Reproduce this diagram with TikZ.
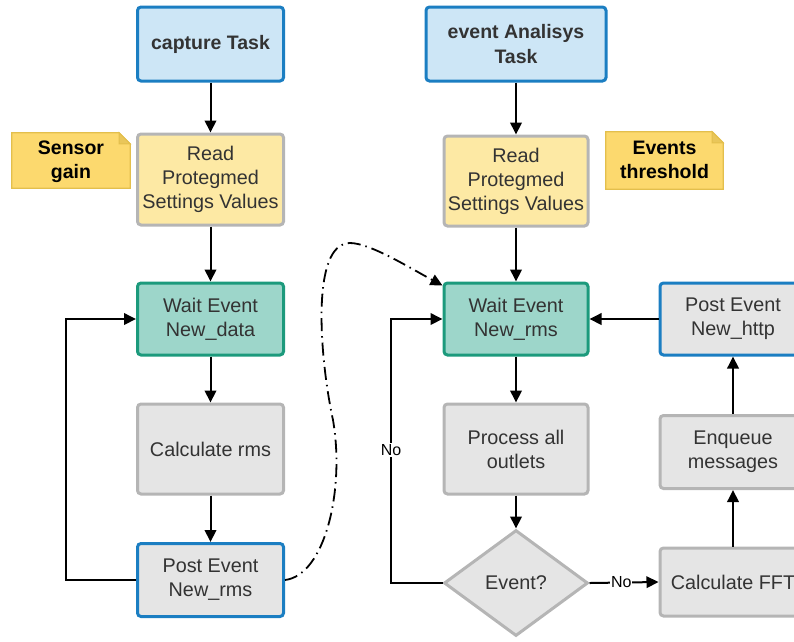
\documentclass[tikz,border=0pt]{standalone}
\usepackage{fontspec}
\setmainfont{Liberation Sans}
\usetikzlibrary{arrows.meta,shapes.geometric}

\definecolor{bluefill}{HTML}{CDE6F6}
\definecolor{blueline}{HTML}{1B7EC2}
\definecolor{tealfill}{HTML}{9DD6CA}
\definecolor{tealline}{HTML}{1C9A7C}
\definecolor{yelfill}{HTML}{FDE9A4}
\definecolor{grayfill}{HTML}{E5E5E5}
\definecolor{grayline}{HTML}{B5B5B5}
\definecolor{notefill}{HTML}{FCD96E}
\definecolor{noteline}{HTML}{E3BF4C}
\definecolor{notefold}{HTML}{E9C65A}
\definecolor{txt}{HTML}{333333}

\tikzset{
  box/.style={rectangle, rounded corners=3.5pt, line width=3pt, align=center,
    inner sep=2pt, text=txt, font=\fontsize{19.8}{24}\selectfont},
  taskbox/.style={box, draw=blueline, fill=bluefill,
    font=\fontsize{19.5}{25}\selectfont\bfseries},
  setbox/.style={box, draw=grayline, fill=yelfill},
  waitbox/.style={box, draw=tealline, fill=tealfill},
  workbox/.style={box, draw=grayline, fill=grayfill},
  postbox/.style={box, draw=blueline, fill=grayfill},
  decision/.style={diamond, draw=grayline, fill=grayfill, line width=3pt,
    inner sep=0pt, text=txt, font=\fontsize{19.8}{24}\selectfont},
  notebox/.style={rectangle, align=center, inner sep=0pt, text=black,
    font=\fontsize{19.5}{24.5}\selectfont\bfseries},
  flow/.style={line width=2pt, -{Triangle[length=12pt,width=11.5pt]}},
  plain/.style={line width=2pt},
  lbl/.style={fill=white, inner sep=1pt, text=black, font=\fontsize{16}{18}\selectfont},
  signal/.style={line width=1.8pt, dash pattern=on 13pt off 5pt on 1.5pt off 5pt,
    -{Triangle[length=12pt,width=11.5pt]}},
}

\begin{document}
\begin{tikzpicture}[x=1pt, y=-1pt]
  \useasboundingbox (0,0) rectangle (794,641);

  % left column: capture task
  \node[taskbox, minimum width=146pt, minimum height=74pt] (cap) at (210.5,44) {capture Task};
  \node[setbox, minimum width=146pt, minimum height=91pt] (readL) at (210.5,179.5) {Read\\Protegmed\\Settings Values};
  \node[waitbox, minimum width=146pt, minimum height=72pt] (waitL) at (210.5,319) {Wait Event\\New\_data};
  \node[workbox, minimum width=146pt, minimum height=90pt] (rms) at (210.5,449) {Calculate rms};
  \node[postbox, minimum width=146pt, minimum height=73pt] (postL) at (210.5,580) {Post Event\\New\_rms};

  % right column: event analysis task
  \node[taskbox, minimum width=180pt, minimum height=74pt] (evt) at (516,44) {event Analisys\\Task};
  \node[setbox, minimum width=144pt, minimum height=90pt] (readR) at (516,181) {Read\\Protegmed\\Settings Values};
  \node[waitbox, minimum width=144pt, minimum height=72pt] (waitR) at (516,319) {Wait Event\\New\_rms};
  \node[workbox, minimum width=144pt, minimum height=90pt] (proc) at (516,449) {Process all\\outlets};
  \node[decision, minimum width=144pt, minimum height=106pt] (dec) at (516,583) {Event?};

  % far right column
  \node[workbox, minimum width=146pt, minimum height=68pt] (fft) at (733,582) {Calculate FFT};
  \node[workbox, minimum width=146pt, minimum height=73pt] (enq) at (733,452) {Enqueue\\messages};
  \node[postbox, minimum width=146pt, minimum height=72pt] (http) at (733,319) {Post Event\\New\_http};

  % sticky notes
  \node[notebox, minimum width=118pt, minimum height=55pt] (gain) at (71,160.5) {};
  \node[notebox, minimum width=117pt, minimum height=57pt] (thr) at (664.5,160.5) {};
  \foreach \n in {gain,thr}{
    \filldraw[fill=notefill, draw=noteline, line width=1.2pt]
      (\n.south west) -- (\n.north west) -- ([xshift=-11pt]\n.north east)
      -- ([yshift=-11pt]\n.north east) -- (\n.south east) -- cycle;
    \filldraw[fill=notefold, draw=noteline, line width=1pt]
      ([xshift=-11pt]\n.north east) -- ([xshift=-11pt,yshift=-11pt]\n.north east)
      -- ([yshift=-11pt]\n.north east) -- cycle;
  }
  \node[notebox] at ([yshift=-1.5pt]gain.center) {Sensor\\gain};
  \node[notebox] at ([yshift=0.5pt]thr.center) {Events\\threshold};

  % left column flow
  \draw[flow] (cap) -- (readL);
  \draw[flow] (readL) -- (waitL);
  \draw[flow] (waitL) -- (rms);
  \draw[flow] (rms) -- (postL);
  \coordinate (loopL) at (66,0);
  \draw[flow] (postL.west) -| (loopL |- waitL.west) -- (waitL.west);

  % right column flow
  \draw[flow] (evt) -- (readR);
  \draw[flow] (readR) -- (waitR);
  \draw[flow] (waitR) -- (proc);
  \draw[flow] (proc) -- (dec);
  \coordinate (loopR) at (391,0);
  \draw[plain] (dec.west) -| (loopR |- proc.center);
  \draw[flow] (loopR |- proc.center) |- (waitR.west);
  \node[lbl] at (391,450) {No};
  \draw[flow] (dec.east) -- node[lbl, pos=0.46] {No} (fft.west);
  \draw[flow] (fft) -- (enq);
  \draw[flow] (enq) -- (http);
  \draw[flow] (http) -- (waitR);

  % signal from capture task to analysis task
  \draw[signal] (postL.east)
    .. controls (325,575) and (345,490) .. (333,420)
    .. controls (320,360) and (310,243) .. (350,243)
    .. controls (370,243) and (410,268) .. ([yshift=-4pt]waitR.north west);
\end{tikzpicture}
\end{document}
